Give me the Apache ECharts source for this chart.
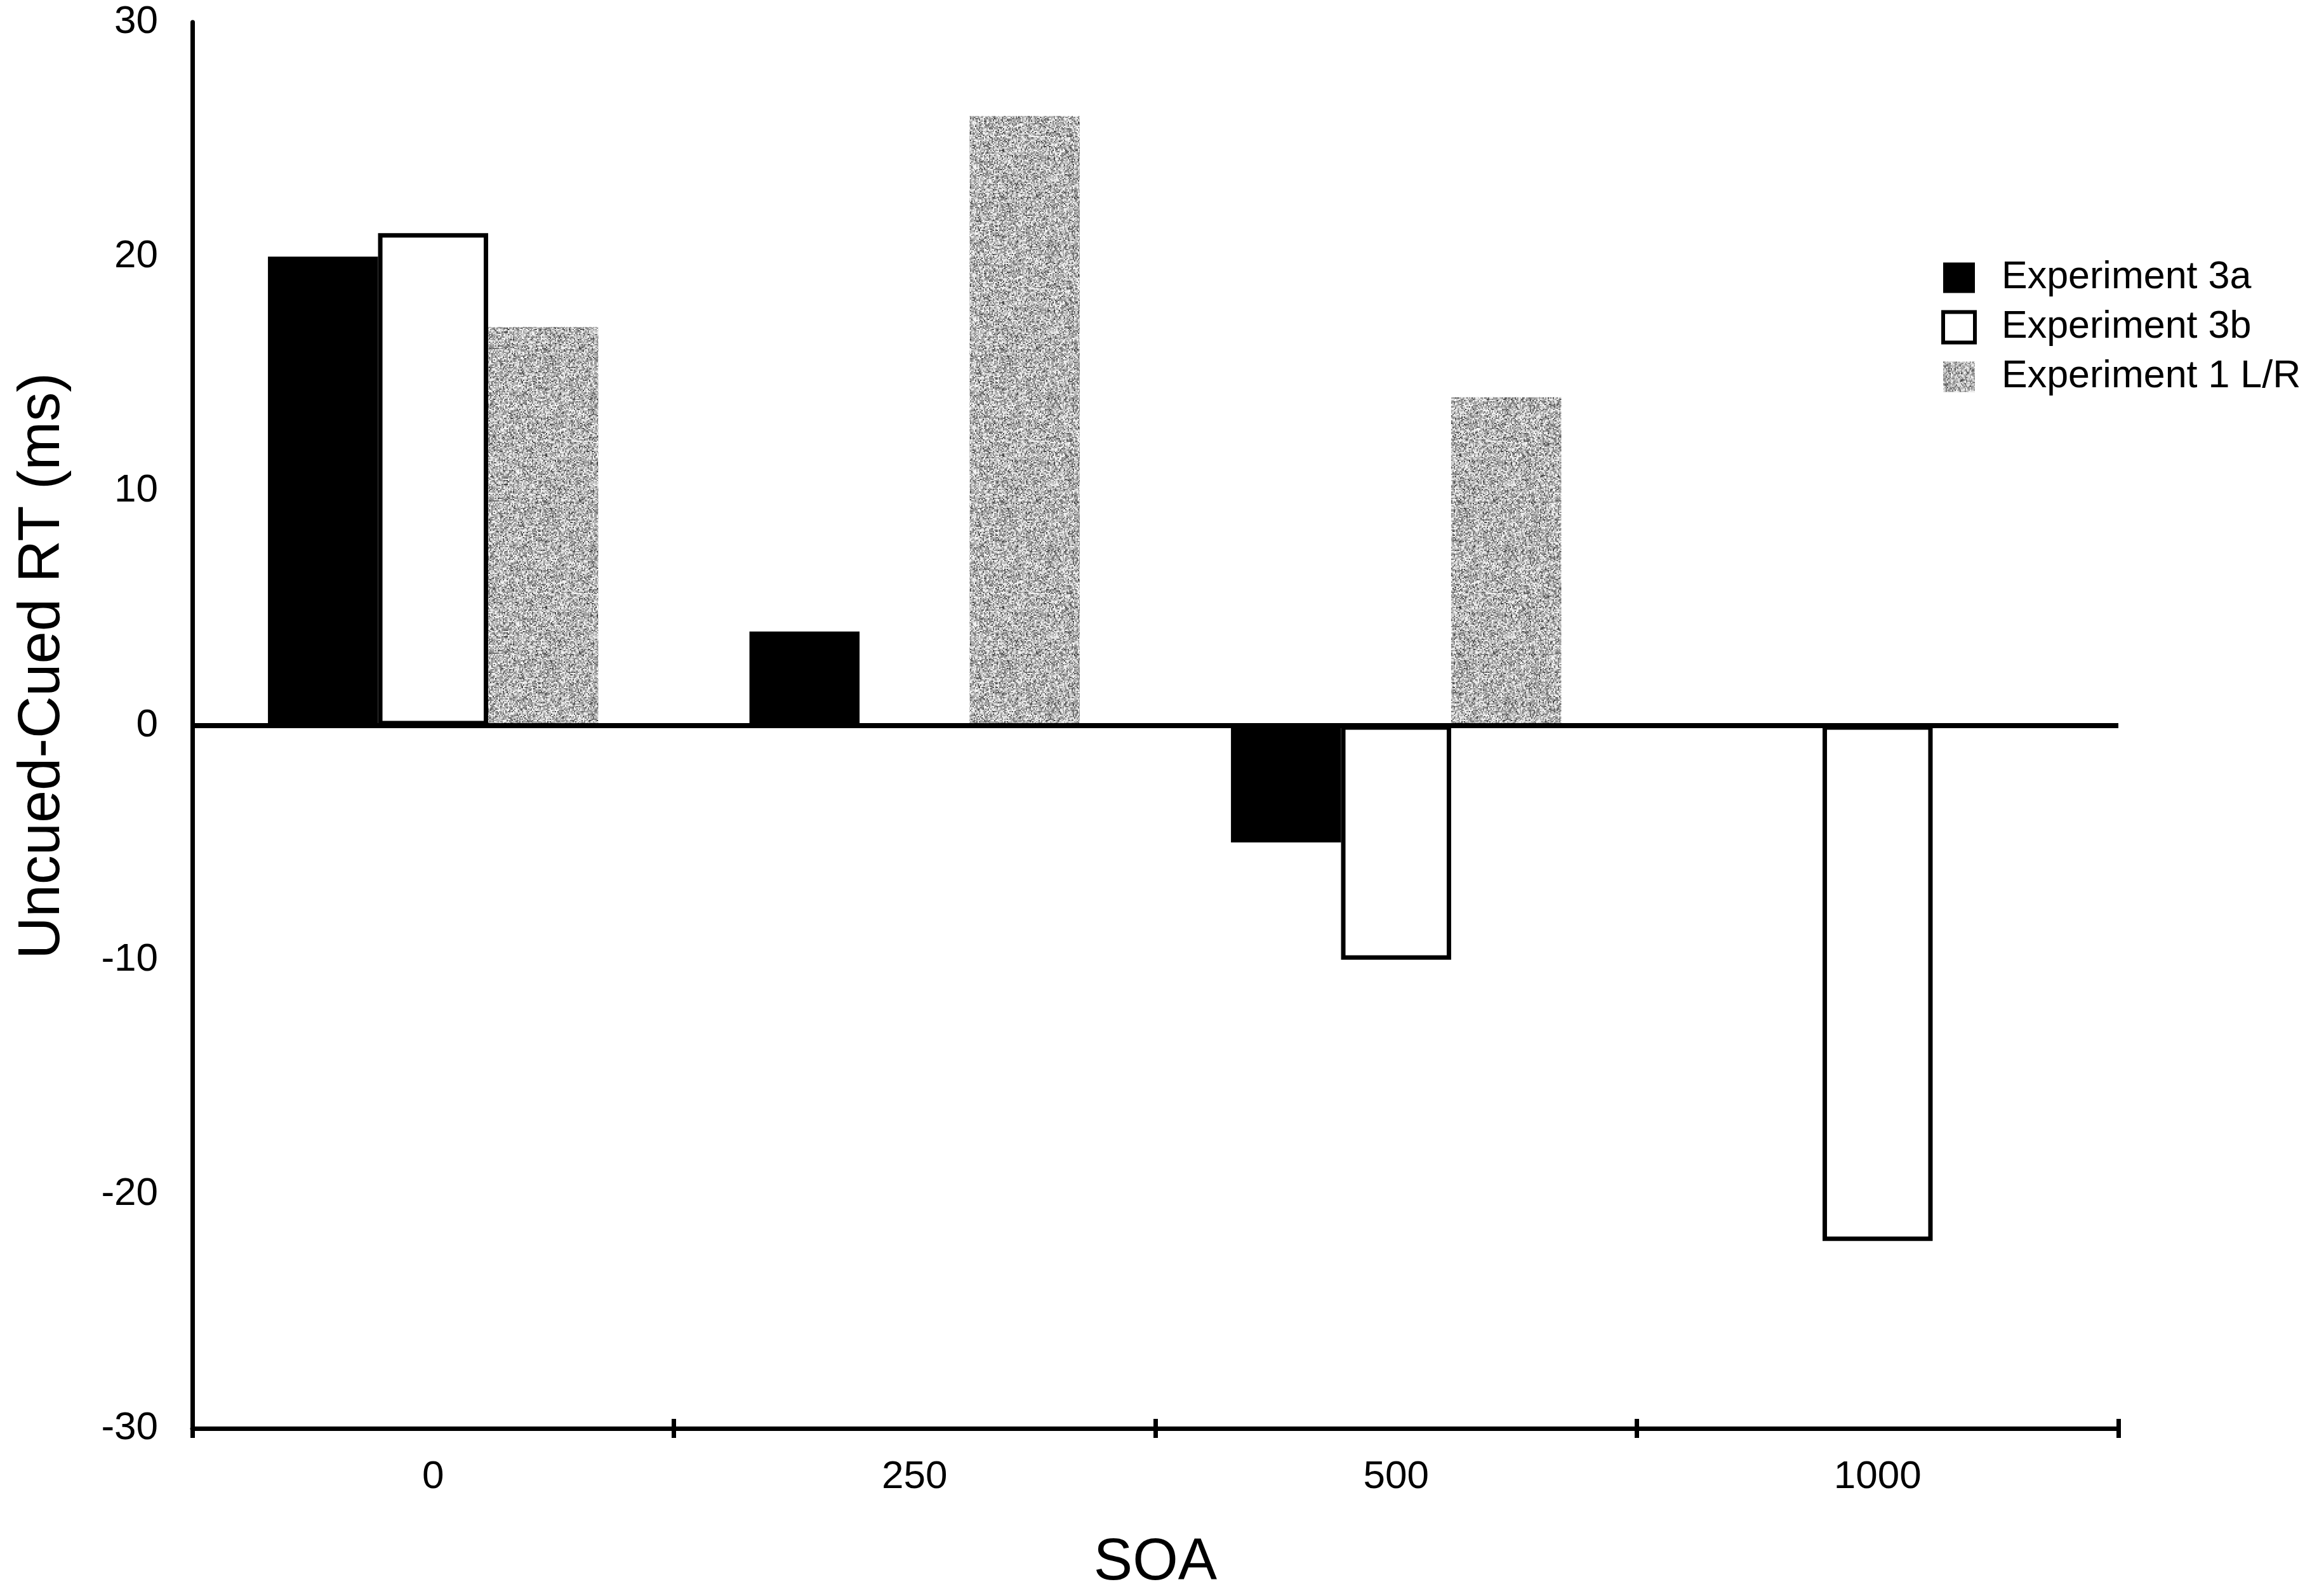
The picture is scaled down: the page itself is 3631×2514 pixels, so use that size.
<!DOCTYPE html>
<html><head><meta charset="utf-8">
<script src="https://cdn.jsdelivr.net/npm/echarts@6/dist/echarts.min.js"></script>
<style>html,body{margin:0;padding:0;background:#fff}#c{width:3631px;height:2514px}</style>
</head><body><div id="c"></div>
<script>
// ---- data ----
const categories = ['0', '250', '500', '1000'];
const exp3a = [20, 4, -5, null];
const exp3b = [21, null, -10, -22];
const exp1LR = [17, 26, 14, null];
const seriesNames = ['Experiment 3a', 'Experiment 3b', 'Experiment 1 L/R'];
const yMin = -30, yMax = 30, yInterval = 10;
const xTitle = 'SOA';
const yTitle = 'Uncued-Cued RT (ms)';

// ---- gray speckle texture (deterministic) ----
function makeNoise() {
  const c = document.createElement('canvas');
  c.width = 240; c.height = 240;
  const ctx = c.getContext('2d');
  let s = 12345;
  const rnd = () => { s = (Math.imul(s, 1664525) + 1013904223) >>> 0; return s / 4294967296; };
  const cell = 2;
  for (let y = 0; y < c.height; y += cell) {
    for (let x = 0; x < c.width; x += cell) {
      let g = Math.round(182 + (rnd() + rnd() + rnd() - 1.5) * 105);
      g = Math.max(60, Math.min(245, g));
      ctx.fillStyle = 'rgb(' + g + ',' + g + ',' + g + ')';
      ctx.fillRect(x, y, cell, cell);
    }
  }
  return c;
}
const noise = makeNoise();

const FONT = '"Liberation Sans", Arial, Helvetica, sans-serif';
const chart = echarts.init(document.getElementById('c'), null, {renderer: 'canvas'});

chart.setOption({
  backgroundColor: '#ffffff',
  animation: false,
  grid: {left: 303, right: 294, top: 35, bottom: 257, containLabel: false},
  legend: {
    orient: 'vertical',
    left: 3053, top: 402,
    icon: 'rect',
    itemWidth: 50, itemHeight: 48, itemGap: 17,
    textStyle: {fontFamily: FONT, fontSize: 61, color: '#000', padding: [0, 0, 0, 37]},
    data: [
      {name: seriesNames[0]},
      {name: seriesNames[1], itemStyle: {borderWidth: 6, borderColor: '#000'}},
      {name: seriesNames[2]}
    ],
    selectedMode: false
  },
  xAxis: [{
    type: 'category',
    data: categories,
    name: xTitle,
    nameLocation: 'middle',
    nameGap: 167,
    nameTextStyle: {fontFamily: FONT, fontSize: 92, color: '#000'},
    axisLine: {onZero: false, lineStyle: {color: '#000', width: 7}},
    axisTick: {show: true, length: 15, lineStyle: {color: '#000', width: 7}},
    axisLabel: {fontFamily: FONT, fontSize: 62, color: '#000', margin: 46},
    splitLine: {show: false}
  }, {
    type: 'category',
    data: categories,
    position: 'bottom',
    axisLine: {show: false, onZero: false},
    axisTick: {show: true, inside: true, length: 15, lineStyle: {color: '#000', width: 7}},
    axisLabel: {show: false},
    splitLine: {show: false}
  }],
  yAxis: {
    type: 'value',
    min: yMin, max: yMax, interval: yInterval,
    axisLine: {show: true, lineStyle: {color: '#000', width: 7}},
    axisTick: {show: false},
    axisLabel: {fontFamily: FONT, fontSize: 62, color: '#000', margin: 54},
    splitLine: {show: false}
  },
  graphic: [{
    type: 'text',
    x: 68, y: 1049,
    rotation: Math.PI / 2,
    style: {
      text: yTitle,
      font: '92px ' + FONT,
      fill: '#000',
      align: 'center', verticalAlign: 'middle',
      textAlign: 'center', textVerticalAlign: 'middle'
    }
  }],
  series: [{
    name: seriesNames[0],
    type: 'bar',
    data: exp3a,
    barGap: '0%',
    barCategoryGap: '31.4%',
    itemStyle: {color: '#000', borderWidth: 0},
    markLine: {
      silent: true,
      symbol: 'none',
      label: {show: false},
      lineStyle: {color: '#000', width: 8, type: 'solid'},
      data: [{yAxis: 0}]
    }
  }, {
    name: seriesNames[1],
    type: 'bar',
    data: exp3b,
    barGap: '0%',
    barCategoryGap: '31.4%',
    itemStyle: {color: '#fff', borderColor: '#000', borderWidth: 7}
  }, {
    name: seriesNames[2],
    type: 'bar',
    data: exp1LR,
    barGap: '0%',
    barCategoryGap: '31.4%',
    itemStyle: {color: {image: noise, repeat: 'repeat'}, borderWidth: 0}
  }]
});
</script></body></html>
